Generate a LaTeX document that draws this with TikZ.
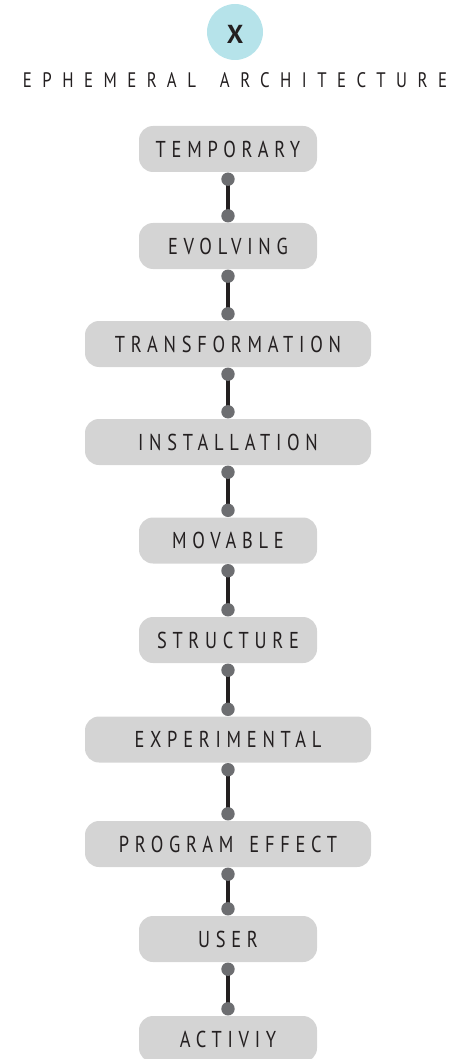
\documentclass[tikz,border=0pt]{standalone}
\usepackage{fontspec}
\setmainfont{PT Sans}
\newfontfamily\titlefont[LetterSpace=50, FakeStretch=0.8]{PT Sans}
\newfontfamily\labelfont[LetterSpace=25, FakeStretch=0.8]{PT Sans}
\newfontfamily\markfont{PT Sans}
\newcommand{\titlegap}{\hspace{24pt}}
\newcommand{\labelgap}{\hspace{16pt}}
\definecolor{ink}{HTML}{231F20}
\definecolor{boxgray}{HTML}{D4D4D4}
\definecolor{dotgray}{HTML}{6D6E71}
\definecolor{badge}{HTML}{B6E3EA}
\tikzset{
  term/.style={rectangle, rounded corners=14pt, fill=boxgray, draw=none,
    minimum height=46pt, inner sep=0pt, text=ink,
    font=\labelfont\fontsize{23}{23}\selectfont},
  short/.style={term, minimum width=178pt},
  long/.style={term, minimum width=286pt},
  link/.style={line width=4pt, ink},
  dot/.style={fill=dotgray},
}
\newcommand{\joinnodes}[2]{%
  \draw[link] ([yshift=-7pt]#1.south) coordinate (#1-out) -- ([yshift=7pt]#2.north) coordinate (#2-in);
  \fill[dot] (#1-out) circle (6.7pt) (#2-in) circle (6.7pt);
}
\begin{document}
\begin{tikzpicture}[x=1pt, y=-1pt]
  \useasboundingbox (0,0) rectangle (457,1059);
  % header badge and title
  \node[circle, fill=badge, minimum size=56pt, inner sep=0pt] (badge) at (235,32) {};
  \node[text=ink, font=\markfont\bfseries\fontsize{26}{26}\selectfont] (mark) at (235,34) {X};
  \node[text=ink, font=\titlefont\fontsize{21}{21}\selectfont, anchor=base] (title) at (235,88) {EPHEMERAL\titlegap ARCHITECTURE};
  % chain of terms
  \node[short] (t1) at (228,149) {TEMPORARY};
  \node[short] (t2) at (228,246) {EVOLVING};
  \node[long]  (t3) at (228,344) {TRANSFORMATION};
  \node[long]  (t4) at (228,442) {INSTALLATION};
  \node[short] (t5) at (228,540.5) {MOVABLE};
  \node[short] (t6) at (228,640) {STRUCTURE};
  \node[long]  (t7) at (228,739.5) {EXPERIMENTAL};
  \node[long]  (t8) at (228,844) {PROGRAM\labelgap EFFECT};
  \node[short] (t9) at (228,939) {USER};
  \node[short] (t10) at (228,1039) {ACTIVIY};
  \joinnodes{t1}{t2}
  \joinnodes{t2}{t3}
  \joinnodes{t3}{t4}
  \joinnodes{t4}{t5}
  \joinnodes{t5}{t6}
  \joinnodes{t6}{t7}
  \joinnodes{t7}{t8}
  \joinnodes{t8}{t9}
  \joinnodes{t9}{t10}
\end{tikzpicture}
\end{document}
